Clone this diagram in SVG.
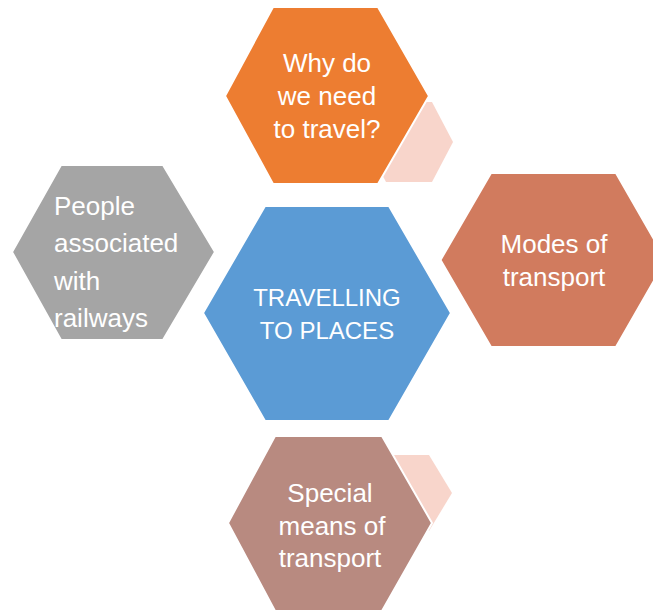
<svg xmlns="http://www.w3.org/2000/svg" width="653" height="612" viewBox="0 0 653 612">
<style>
.hex{stroke:#ffffff;stroke-width:2;stroke-linejoin:miter}
.acc{fill:#F8D5CB}
.t{font-family:"Liberation Sans",Arial,sans-serif;font-size:26px;fill:#ffffff}
.caps{font-size:24px}
.c{text-anchor:middle}
</style>
<rect width="653" height="612" fill="#ffffff"/>
<g id="connectors"></g>
<g id="accent-top"><polygon class="acc" points="386,102 432,102 453,142 432,182 386,182 365,142"/></g>
<g id="accent-bottom"><polygon class="acc" points="384,455 429,455 452,493 429,531 384,531 361,493"/></g>
<g id="node-why">
<polygon class="hex" fill="#ED7D31" points="273,7 378,7 429,96 378,184 273,184 225,96"/>
<text class="t c" x="327" y="72">Why do</text>
<text class="t c" x="327" y="105">we need</text>
<text class="t c" x="327" y="138">to travel?</text>
</g>
<g id="node-center">
<polygon class="hex" fill="#5B9BD5" points="265,206 389,206 451,313 389,421 265,421 203,313"/>
<text class="t c caps" x="327" y="306">TRAVELLING</text>
<text class="t c caps" x="327" y="339">TO PLACES</text>
</g>
<g id="node-people">
<polygon class="hex" fill="#A5A5A5" points="61,165 163,165 215,252 163,340 61,340 12,252"/>
<text class="t" x="54" y="215">People</text>
<text class="t" x="54" y="252">associated</text>
<text class="t" x="54" y="290">with</text>
<text class="t" x="54" y="327">railways</text>
</g>
<g id="node-modes">
<polygon class="hex" fill="#D17B5E" points="491,173 616,173 666,260 616,347 491,347 440.5,260"/>
<text class="t c" x="554" y="253">Modes of</text>
<text class="t c" x="554" y="286">transport</text>
</g>
<g id="node-special">
<polygon class="hex" fill="#B88A80" points="275,436 382,436 432,523 382,611 275,611 228,523"/>
<text class="t c" x="330" y="502">Special</text>
<text class="t c" x="332" y="535">means of</text>
<text class="t c" x="330" y="567">transport</text>
</g>
</svg>
